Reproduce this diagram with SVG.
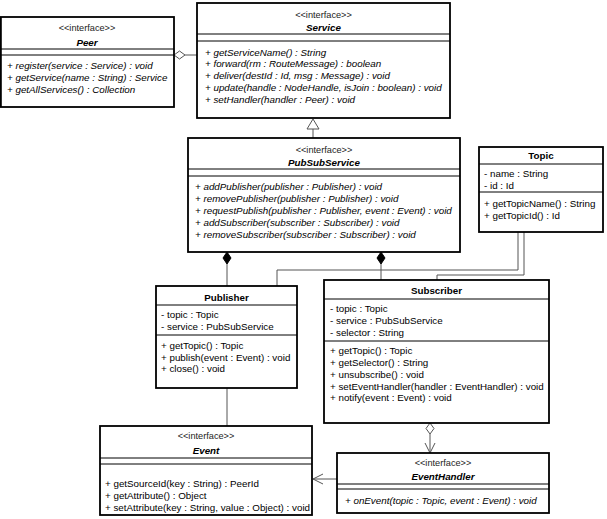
<svg xmlns="http://www.w3.org/2000/svg" width="607" height="519" viewBox="0 0 607 519">
<style>
.box{fill:#fff;stroke:#000;stroke-width:1.8}
.sep{stroke:#000;stroke-width:1}
text{font-family:"Liberation Sans",Arial,sans-serif;font-size:9.8px;fill:#000}
.it{font-style:italic}
.st{font-size:9.2px;text-anchor:middle;fill:#222}
.nm{font-weight:bold;text-anchor:middle}
.conn{stroke:#555;fill:none;stroke-width:1}
.hol{fill:#fff;stroke:#555;stroke-width:1}
.fil{fill:#000;stroke:#000;stroke-width:1}
</style>
<rect width="607" height="519" fill="#fff"/>
<g id="connectors">
<line class="conn" x1="185" y1="55" x2="197" y2="55"/>
<polygon class="hol" points="174,55 179.5,51 185,55 179.5,59"/>
<line class="conn" x1="313" y1="129" x2="313" y2="138"/>
<polygon class="hol" points="313,119 319,129 307,129"/>
<line class="conn" x1="227" y1="264" x2="227" y2="286"/>
<polygon class="fil" points="227,252 231,258 227,264 223,258"/>
<line class="conn" x1="381" y1="264" x2="381" y2="280"/>
<polygon class="fil" points="381,252 385,258 381,264 377,258"/>
<polyline class="conn" points="518,232 518,270 277,270 277,286"/>
<polyline class="conn" points="524,232 524,275 437,275 437,280"/>
<line class="conn" x1="227" y1="388" x2="227" y2="426"/>
<line class="conn" x1="430" y1="434" x2="430" y2="453"/>
<polygon class="hol" points="430,423 434,428.5 430,434 426,428.5"/>
<polyline class="conn" points="425,443 430,453 435,443"/>
<line class="conn" x1="313" y1="479" x2="337" y2="479"/>
<polyline class="conn" points="323,474 313,479 323,484"/>
</g>
<g id="Peer">
<rect class="box" x="0.9" y="17" width="173.1" height="90"/>
<text class="st" x="87" y="31">&lt;&lt;interface&gt;&gt;</text>
<text class="nm it" x="87" y="45.5">Peer</text>
<line class="sep" x1="0" y1="49" x2="174" y2="49"/>
<line class="sep" x1="0" y1="55" x2="174" y2="55"/>
<text class="it" x="7" y="68.5">+ register(service : Service) : void</text>
<text class="it" x="7" y="80.5">+ getService(name : String) : Service</text>
<text class="it" x="7" y="92.5">+ getAllServices() : Collection</text>
</g>
<g id="Service">
<rect class="box" x="197" y="3" width="253" height="115"/>
<text class="st" x="323.5" y="18">&lt;&lt;interface&gt;&gt;</text>
<text class="nm it" x="323.5" y="30.5">Service</text>
<line class="sep" x1="197" y1="34" x2="450" y2="34"/>
<line class="sep" x1="197" y1="41" x2="450" y2="41"/>
<text class="it" x="205" y="55.5">+ getServiceName() : String</text>
<text class="it" x="205" y="67.3">+ forward(rm : RouteMessage) : boolean</text>
<text class="it" x="205" y="79">+ deliver(destId : Id, msg : Message) : void</text>
<text class="it" x="205" y="90.8">+ update(handle : NodeHandle, isJoin : boolean) : void</text>
<text class="it" x="205" y="102.5">+ setHandler(handler : Peer) : void</text>
</g>
<g id="PubSubService">
<rect class="box" x="188" y="138" width="272" height="114"/>
<text class="st" x="324" y="153">&lt;&lt;interface&gt;&gt;</text>
<text class="nm it" x="324" y="165.5">PubSubService</text>
<line class="sep" x1="188" y1="169" x2="460" y2="169"/>
<line class="sep" x1="188" y1="176" x2="460" y2="176"/>
<text class="it" x="195" y="189.5">+ addPublisher(publisher : Publisher) : void</text>
<text class="it" x="195" y="201.5">+ removePublisher(publisher : Publisher) : void</text>
<text class="it" x="195" y="213.5">+ requestPublish(publisher : Publisher, event : Event) : void</text>
<text class="it" x="195" y="225.5">+ addSubscriber(subscriber : Subscriber) : void</text>
<text class="it" x="195" y="237.5">+ removeSubscriber(subscriber : Subscriber) : void</text>
</g>
<g id="Topic">
<rect class="box" x="479" y="147" width="124" height="85"/>
<text class="nm" x="541" y="158.5">Topic</text>
<line class="sep" x1="479" y1="164" x2="603" y2="164"/>
<text x="484" y="176.5">- name : String</text>
<text x="484" y="188.5">- id : Id</text>
<line class="sep" x1="479" y1="192" x2="603" y2="192"/>
<text x="484" y="206.5">+ getTopicName() : String</text>
<text x="484" y="218.5">+ getTopicId() : Id</text>
</g>
<g id="Publisher">
<rect class="box" x="156" y="286" width="141" height="102"/>
<text class="nm" x="226.5" y="300.5">Publisher</text>
<line class="sep" x1="156" y1="305" x2="297" y2="305"/>
<text x="161" y="317.5">- topic : Topic</text>
<text x="161" y="329.5">- service : PubSubService</text>
<line class="sep" x1="156" y1="335" x2="297" y2="335"/>
<text x="161" y="348.5">+ getTopic() : Topic</text>
<text x="161" y="360.5">+ publish(event : Event) : void</text>
<text x="161" y="372">+ close() : void</text>
</g>
<g id="Subscriber">
<rect class="box" x="324" y="280" width="225" height="143"/>
<text class="nm" x="436.5" y="293.5">Subscriber</text>
<line class="sep" x1="324" y1="299" x2="549" y2="299"/>
<text x="330" y="311.5">- topic : Topic</text>
<text x="330" y="323.5">- service : PubSubService</text>
<text x="330" y="335.5">- selector : String</text>
<line class="sep" x1="324" y1="341" x2="549" y2="341"/>
<text x="330" y="353.5">+ getTopic() : Topic</text>
<text x="330" y="365.5">+ getSelector() : String</text>
<text x="330" y="377.5">+ unsubscribe() : void</text>
<text x="330" y="389.5">+ setEventHandler(handler : EventHandler) : void</text>
<text x="330" y="401">+ notify(event : Event) : void</text>
</g>
<g id="Event">
<rect class="box" x="100" y="426" width="212" height="89"/>
<text class="st" x="206" y="439">&lt;&lt;interface&gt;&gt;</text>
<text class="nm it" x="206" y="453.5">Event</text>
<line class="sep" x1="100" y1="458" x2="312" y2="458"/>
<line class="sep" x1="100" y1="464" x2="312" y2="464"/>
<text x="105" y="486.5">+ getSourceId(key : String) : PeerId</text>
<text x="105" y="498.5">+ getAttribute() : Object</text>
<text x="105" y="510.5">+ setAttribute(key : String, value : Object) : void</text>
</g>
<g id="EventHandler">
<rect class="box" x="337" y="453" width="212" height="60"/>
<text class="st" x="443" y="466">&lt;&lt;interface&gt;&gt;</text>
<text class="nm it" x="443" y="479.5">EventHandler</text>
<line class="sep" x1="337" y1="484" x2="549" y2="484"/>
<line class="sep" x1="337" y1="489" x2="549" y2="489"/>
<text class="it" x="345" y="503.5">+ onEvent(topic : Topic, event : Event) : void</text>
</g>
</svg>
